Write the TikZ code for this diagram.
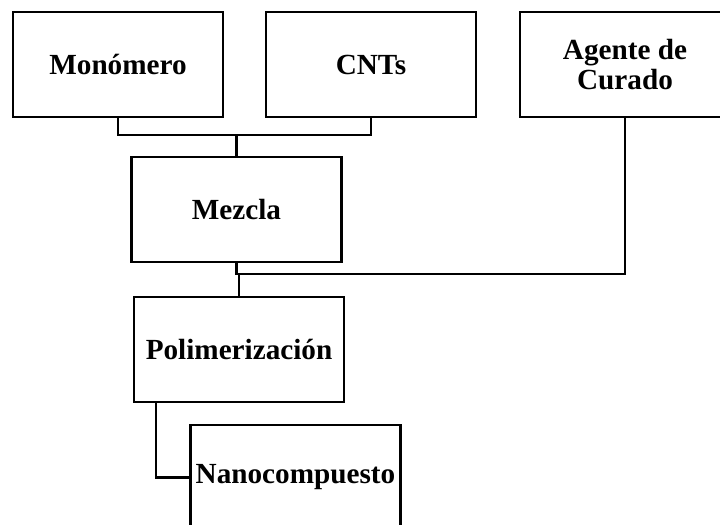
\documentclass[tikz,border=0pt]{standalone}
\usepackage{fontspec}
\setmainfont{Liberation Serif}
\usetikzlibrary{positioning}

\begin{document}
\begin{tikzpicture}[
  x=0.5pt, y=-0.5pt,
  stage/.style={draw=black, line width=1.4pt, fill=white,
                minimum width=105pt, minimum height=52.5pt,
                inner sep=0pt, outer sep=0pt, align=center,
                font=\fontsize{14.6}{15}\selectfont\bfseries},
  link/.style={line width=1.1pt, color=black}
]
  \useasboundingbox (0,0) rectangle (720,525);

  \node[stage] (mono)   at (118,64.5)              {Monómero};
  \node[stage, right=21.5pt of mono] (cnts)        {CNTs};
  \node[stage, right=22pt of cnts]   (agente)      {Agente de\\Curado};
  \node[stage] (mezcla) at (236.5,209.5)           {Mezcla};
  \node[stage] (polim)  at (239,349.5)             {Polimerización};
  \node[stage] (nano)   at (295.5,477.5)           {Nanocompuesto};

  % junctions
  \coordinate (j1) at (mezcla.north |- 0,135);
  \coordinate (j2) at (mezcla.south |- 0,274);
  \coordinate (p1) at ([xshift=11pt]polim.south west);

  \draw[link] (mono.south) |- (j1) -| (cnts.south);
  \draw[link] (j1) -- (mezcla.north);
  \draw[link] (mezcla.south) -- (j2) -| (agente.south);
  \draw[link] (polim.north) |- (j2);
  \draw[link] (p1) |- (nano.west);
\end{tikzpicture}
\end{document}
